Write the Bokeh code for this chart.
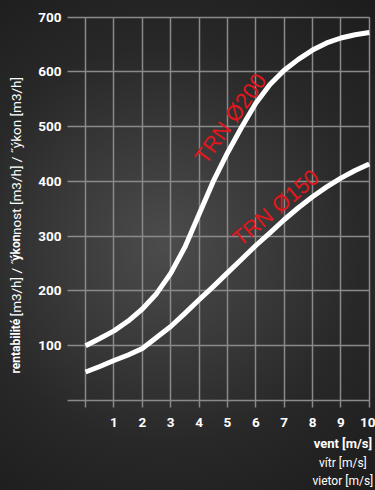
import math
from bokeh.plotting import figure
from bokeh.models import Range1d, FixedTicker, ColumnDataSource
from bokeh.core.properties import value
from bokeh.embed import file_html
from bokeh.resources import INLINE

# ---- data ----
wind = [0, 0.5, 1, 1.5, 2, 2.5, 3, 3.5, 4, 4.5, 5, 5.5, 6, 6.5, 7, 7.5, 8, 8.5, 9, 9.5, 10]
trn200 = [100, 113, 127, 145, 167, 195, 232, 280, 340, 400, 452, 499, 543, 577, 603, 623, 640, 653, 662, 668, 672]
trn150 = [52, 62, 73, 83, 95, 115, 135, 159, 184, 208, 233, 258, 283, 306, 330, 352, 372, 390, 406, 420, 432]
x_ticks = [1, 2, 3, 4, 5, 6, 7, 8, 9, 10]
y_ticks = [100, 200, 300, 400, 500, 600, 700]
series_names = ["TRN Ø200", "TRN Ø150"]
x_title = ["vent [m/s]", "vítr [m/s]", "vietor [m/s]"]
y_title = ["rentabilité", "[m3/h] / ˝", "ýkon", "nost [m3/h] / ˝ýkon [m3/h]"]

# ---- style / layout constants ----
RED = "#e3161d"
GRID = "#8a8a8a"
FONT = "Roboto"
GRID_X0, GRID_Y0 = -0.64, -13      # where the grid area starts (left / bottom)

p = figure(width=375, height=490, output_backend="svg", toolbar_location=None,
           x_range=Range1d(-3.0, 10.22), y_range=Range1d(-164.5, 730.5),
           min_border=0)
p.min_border_left = p.min_border_right = p.min_border_top = p.min_border_bottom = 0
p.outline_line_color = None
p.background_fill_color = None
p.border_fill_color = None
p.styles = {"background": "radial-gradient(circle at 44% 50%, #4c4c4c 0%, #3b3b3b 30%, #282828 62%, #1c1c1c 100%)"}

# grids limited to the chart area
p.xgrid.ticker = FixedTicker(ticks=[0] + x_ticks)
p.ygrid.ticker = FixedTicker(ticks=[0] + y_ticks)
p.xgrid.cross_bounds = (GRID_Y0, y_ticks[-1])
p.ygrid.cross_bounds = (GRID_X0, x_ticks[-1])
for g in (p.xgrid, p.ygrid):
    g.grid_line_color = GRID
    g.grid_line_width = 1.5

# axes drawn at fixed positions inside the canvas
p.xaxis.fixed_location = GRID_Y0
p.yaxis.fixed_location = GRID_X0
p.xaxis.ticker = FixedTicker(ticks=x_ticks)
p.yaxis.ticker = FixedTicker(ticks=y_ticks)
for ax in (p.xaxis, p.yaxis):
    ax.axis_line_color = None
    ax.major_tick_line_color = None
    ax.minor_tick_line_color = None
    ax.major_tick_out = 0
    ax.major_tick_in = 0
    ax.major_label_text_color = "white"
    ax.major_label_text_font = FONT
    ax.major_label_text_font_style = "bold"
    ax.major_label_text_font_size = "13.5px"
p.xaxis.major_label_standoff = 10
p.yaxis.major_label_standoff = 6

# curves
src = ColumnDataSource(dict(x=wind, a=trn200, b=trn150))
p.line("x", "a", source=src, line_color="white", line_width=5, line_join="round")
p.line("x", "b", source=src, line_color="white", line_width=5, line_join="round")

# curve labels
p.text(x=[5.11], y=[515], text=[series_names[0]], angle=math.radians(54),
       text_color=RED, text_font=value("Liberation Sans"), text_font_size="22px",
       text_align="center", text_baseline="middle")
p.text(x=[6.70], y=[352], text=[series_names[1]], angle=math.radians(40),
       text_color=RED, text_font=value("Liberation Sans"), text_font_size="22px",
       text_align="center", text_baseline="middle")

# y axis title (rotated, mixed weights)
y_pos = [49.3, 153.4, 255.7, 302.2]
y_styles = ["bold", "normal", "bold", "normal"]
y_sizes = ["12px", "13.5px", "12px", "13.5px"]
for txt, yy, sty, sz in zip(y_title, y_pos, y_styles, y_sizes):
    p.text(x=[-2.47], y=[yy], text=[txt], angle=math.pi / 2, text_color="white",
           text_font=value(FONT), text_font_style=sty, text_font_size=sz,
           text_align="left", text_baseline="middle")

# x axis title (three centred lines)
x_pos = [-78.5, -113.5, -146.5]
x_styles = ["bold", "normal", "normal"]
x_sizes = ["13px", "12px", "12px"]
for txt, yy, sty, sz in zip(x_title, x_pos, x_styles, x_sizes):
    p.text(x=[9.07], y=[yy], text=[txt], text_color="white", text_font=value(FONT),
           text_font_style=sty, text_font_size=sz,
           text_align="center", text_baseline="middle")

html = file_html(p, INLINE)
open("out.html", "w").write(html)
